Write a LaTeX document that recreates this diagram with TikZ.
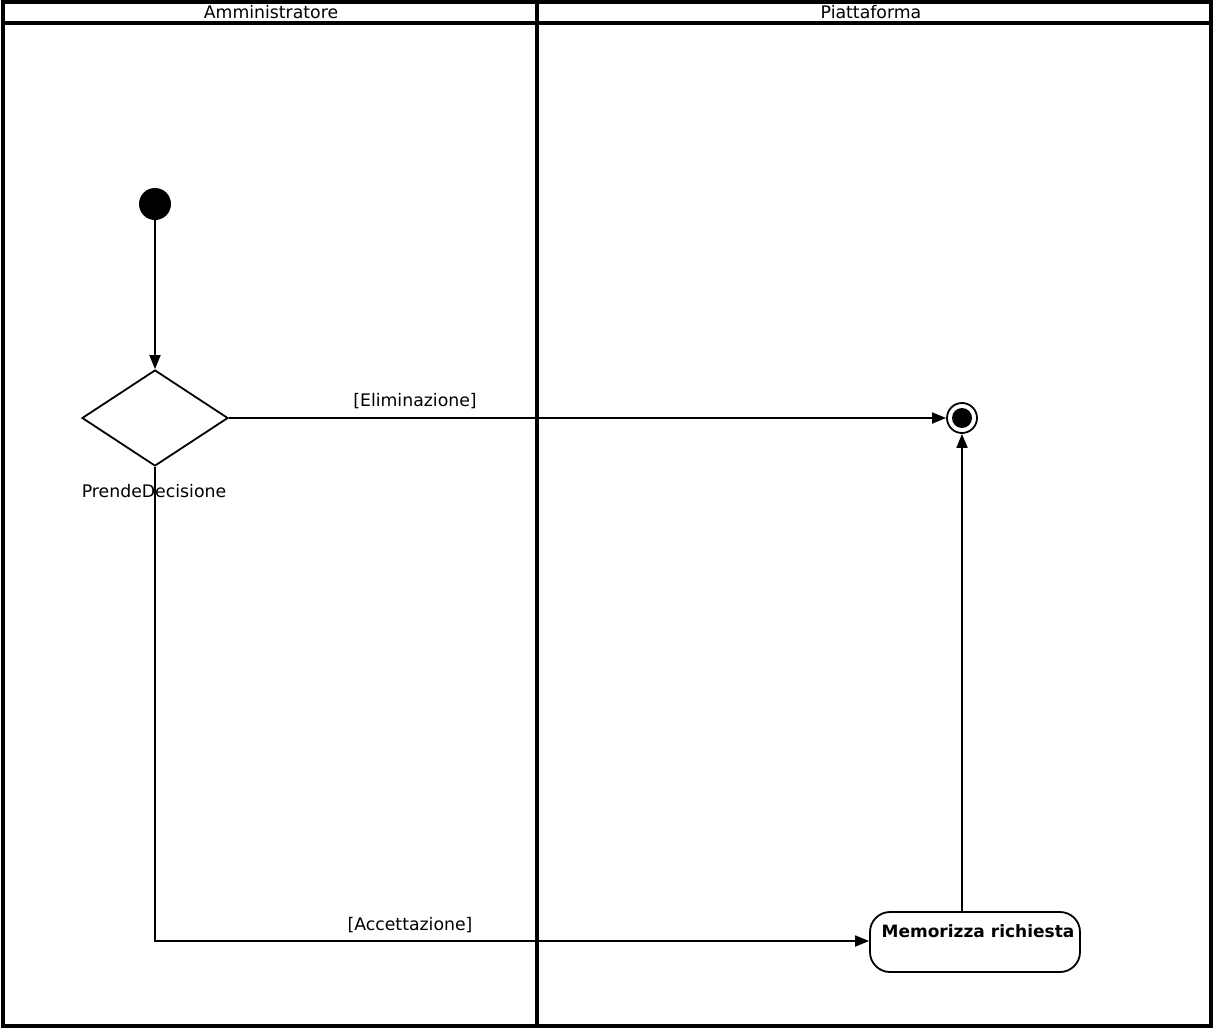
\documentclass[tikz,border=0pt]{standalone}
\usepackage{fontspec}
\setmainfont{DejaVu Sans}
\usetikzlibrary{arrows.meta,shapes.geometric}
\begin{document}
\begin{tikzpicture}[x=1pt,y=-1pt,
  frame/.style={line width=3.5pt},
  flow/.style={line width=1.8pt,-{Triangle[length=14pt,width=11pt]}},
  lbl/.style={font=\fontsize{17.3}{19}\selectfont,inner sep=0pt},
  lanetitle/.style={font=\fontsize{17.3}{19}\selectfont,inner sep=0pt}]
\useasboundingbox (0,0) rectangle (1216,1036);
% swimlane frame
\draw[frame] (3,2) rectangle (1211,1026);
\draw[frame] (3,23) -- (1211,23);
\draw[frame] (537,2) -- (537,1026);
\node[lanetitle] (t1) at (271,12) {Amministratore};
\node[lanetitle] (t2) at (871,12) {Piattaforma};
% nodes
\node[circle,fill=black,minimum size=32pt,inner sep=0pt] (init) at (155,204) {};
\node[diamond,draw,line width=1.8pt,minimum width=146pt,minimum height=96pt,inner sep=0pt] (dec) at (155,418) {};
\node[lbl] (declbl) at (154,491) {PrendeDecisione};
\node[circle,draw,line width=1.8pt,minimum size=30pt,inner sep=0pt] (fin) at (962,418) {};
\node[circle,fill=black,minimum size=20pt,inner sep=0pt] (fininner) at (962,418) {};
\node[draw,line width=1.8pt,rounded corners=20pt,minimum width=210pt,minimum height=60pt,inner sep=0pt] (act) at (975,942) {};
\node[lbl,font=\fontsize{17}{19}\selectfont\bfseries] (actlbl) at (978,931) {Memorizza richiesta};
\coordinate (corner) at (155,941);
% edges
\draw[flow] (init) -- (dec.north);
\draw[flow] (dec.east) -- (fin.west);
\node[lbl] (elim) at (415,401) {[Eliminazione]};
\draw[flow] (dec.south) -- (corner) -- (corner -| act.west);
\node[lbl] (acc) at (410,925) {[Accettazione]};
\draw[flow] (fin.south |- act.north) -- (fin.south);
\end{tikzpicture}
\end{document}
